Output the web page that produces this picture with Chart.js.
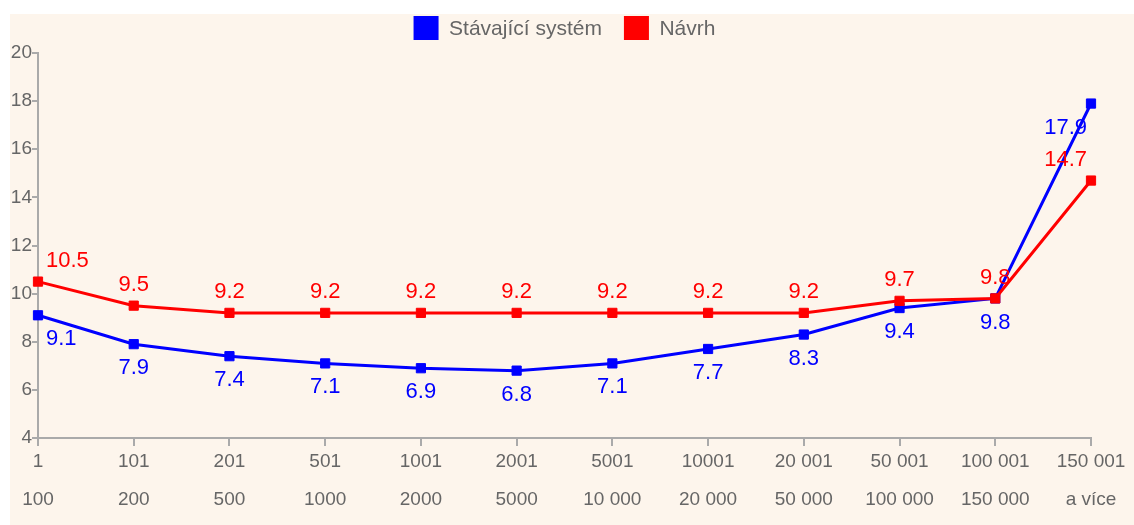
<!DOCTYPE html>
<html>
<head>
<meta charset="utf-8">
<script src="https://cdn.jsdelivr.net/npm/chart.js@4/dist/chart.umd.min.js"></script>
<style>
    body { margin: 0; background: #fff; }
    #wrap {
        position: absolute;
        left: 10px; top: 14px;
        width: 1124px; height: 511px;
        background: #fdf5ec;
    }
</style>
</head>
<body>
<div id="wrap"><canvas id="chart"></canvas></div>
<script>
const rangeFrom = ['1', '101', '201', '501', '1001', '2001', '5001', '10001', '20 001', '50 001', '100 001', '150 001'];
const rangeTo = ['100', '200', '500', '1000', '2000', '5000', '10 000', '20 000', '50 000', '100 000', '150 000', 'a více'];
const currentSystem = [9.1, 7.9, 7.4, 7.1, 6.9, 6.8, 7.1, 7.7, 8.3, 9.4, 9.8, 17.9];
const proposal = [10.5, 9.5, 9.2, 9.2, 9.2, 9.2, 9.2, 9.2, 9.2, 9.7, 9.8, 14.7];
const yTicks = [4, 6, 8, 10, 12, 14, 16, 18, 20];

const FONT = '"Liberation Sans", Arial, sans-serif';
const labels = rangeFrom.map((f, i) => [f, rangeTo[i]]);

// value labels above (red) / below (blue) each point
const valueLabels = {
    id: 'valueLabels',
    afterDatasetsDraw(chart) {
        const ctx = chart.ctx;
        ctx.save();
        ctx.font = '22px ' + FONT;
        ctx.textBaseline = 'middle';
        chart.data.datasets.forEach((ds, di) => {
            const meta = chart.getDatasetMeta(di);
            const dy = ds.labelAbove ? -21 : 24;
            ctx.fillStyle = ds.borderColor;
            meta.data.forEach((pt, i) => {
                let x = pt.x;
                if (i === 0) { ctx.textAlign = 'left'; x += 8; }
                else if (i === meta.data.length - 1) { ctx.textAlign = 'right'; x -= 4; }
                else ctx.textAlign = 'center';
                ctx.fillText(ds.data[i].toFixed(1), x, pt.y + dy);
            });
        });
        ctx.restore();
    }
};

// simple legend centred over the plot area
const topLegend = {
    id: 'topLegend',
    afterDraw(chart) {
        const ctx = chart.ctx;
        const area = chart.chartArea;
        const boxW = 25, boxH = 24, gap = 10.5, spacing = 22;
        ctx.save();
        ctx.font = '21px ' + FONT;
        ctx.textBaseline = 'middle';
        ctx.textAlign = 'left';
        const items = chart.data.datasets.map(ds => ({
            text: ds.label, color: ds.borderColor,
            w: boxW + gap + ctx.measureText(ds.label).width
        }));
        const total = items.reduce((s, it) => s + it.w, 0) + spacing * (items.length - 1);
        let x = (area.left + area.right) / 2 - total / 2;
        const y = 2;
        items.forEach(it => {
            ctx.fillStyle = it.color;
            ctx.fillRect(x, y, boxW, boxH);
            ctx.fillStyle = '#666';
            ctx.fillText(it.text, x + boxW + gap, y + boxH / 2 + 1);
            x += it.w + spacing;
        });
        ctx.restore();
    }
};

new Chart(document.getElementById('chart'), {
    type: 'line',
    data: {
        labels: labels,
        datasets: [{
            label: 'Stávající systém',
            data: currentSystem,
            borderColor: '#0000ff',
            backgroundColor: '#0000ff',
            borderWidth: 3,
            pointStyle: 'rect',
            pointRadius: 6.5,
            pointBorderWidth: 1,
            labelAbove: false,
            order: 1
        }, {
            label: 'Návrh',
            data: proposal,
            borderColor: '#ff0000',
            backgroundColor: '#ff0000',
            borderWidth: 3,
            pointStyle: 'rect',
            pointRadius: 6.5,
            pointBorderWidth: 1,
            labelAbove: true,
            order: 0
        }]
    },
    options: {
        responsive: true,
        maintainAspectRatio: false,
        animation: false,
        layout: { padding: { top: 39, right: 43, left: 0, bottom: 0 } },
        plugins: {
            legend: { display: false },
            tooltip: { enabled: false }
        },
        scales: {
            x: {
                offset: false,
                border: { color: '#aaa', width: 2 },
                grid: { drawOnChartArea: false, color: '#aaa', tickLength: 8, lineWidth: 2 },
                ticks: {
                    color: '#666',
                    padding: -3,
                    maxRotation: 0,
                    autoSkip: false,
                    font: { family: FONT, size: 19, lineHeight: 2 }
                },
                afterFit: s => { s.height = 87; }
            },
            y: {
                min: 4,
                max: 20,
                border: { color: '#aaa', width: 2 },
                grid: { drawOnChartArea: false, color: '#aaa', tickLength: 6, lineWidth: 2 },
                afterBuildTicks: s => { s.ticks = yTicks.map(v => ({ value: v })); },
                ticks: {
                    color: '#666',
                    padding: 0,
                    font: { family: FONT, size: 19 }
                },
                afterFit: s => { s.width = 28; }
            }
        }
    },
    plugins: [valueLabels, topLegend]
});
</script>
</body>
</html>
